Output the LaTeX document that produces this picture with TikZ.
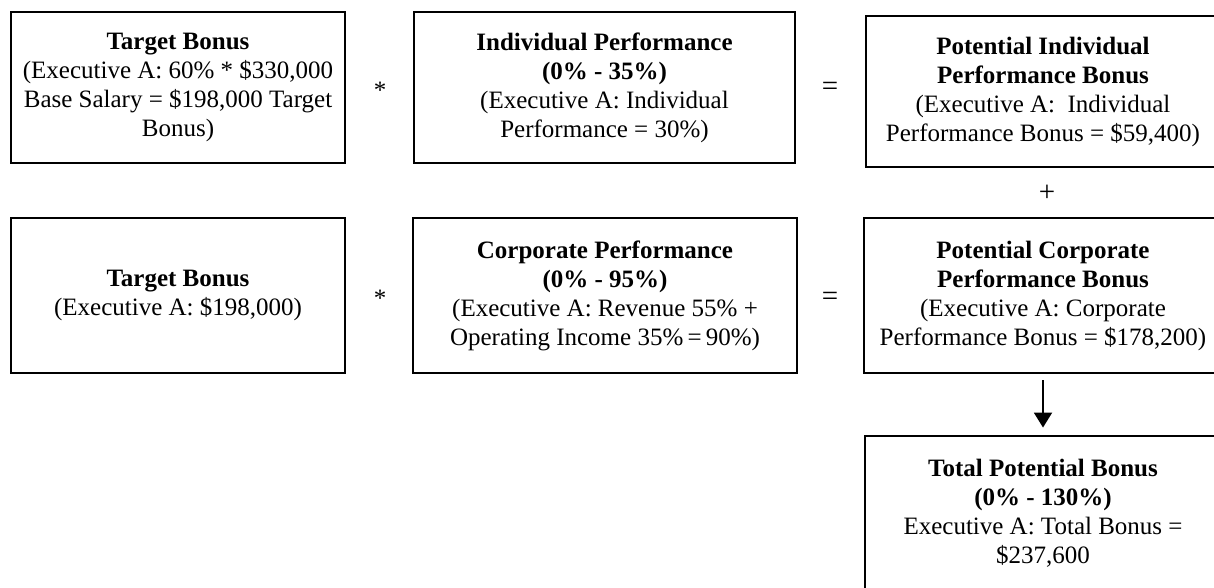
\documentclass[tikz,border=0pt]{standalone}
\usepackage{fontspec}
\setmainfont{Liberation Serif}
\usetikzlibrary{arrows.meta}
\begin{document}
\begin{tikzpicture}[x=1pt,y=-1pt,
  txt/.style={font=\fontsize{25}{29}\selectfont},
  box/.style={txt, draw=black, line width=2.9pt, rectangle, align=center, inner sep=0pt},
  op/.style={txt, inner sep=0pt, anchor=base},
  bigop/.style={op, font=\fontsize{29}{33}\selectfont},
  flow/.style={line width=2pt, -{Triangle[width=18pt,length=15pt]}}
  ]
\useasboundingbox (0,0) rectangle (1214,588);
\clip (0,0) rectangle (1214,588);

% individual performance row
\node[box, minimum width=334pt, minimum height=151pt] (tb1) at (178,87.5)
  {\textbf{Target Bonus}\\(Executive A: 60\% * \$330,000\\Base Salary = \$198,000 Target\\Bonus)};
\node[box, minimum width=381pt, minimum height=151pt] (ip) at (604.5,87.5)
  {\textbf{Individual Performance}\\\textbf{(0\% - 35\%)}\\(Executive A: Individual\\Performance = 30\%)};
\node[box, minimum width=354pt, minimum height=151pt] (pib) at (1043,91.5)
  {\textbf{Potential Individual}\\\textbf{Performance Bonus}\\(Executive A:\ \ Individual\\Performance Bonus = \$59,400)};

% corporate performance row
\node[box, minimum width=334pt, minimum height=155pt] (tb2) at (178,295.5)
  {\textbf{Target Bonus}\\(Executive A: \$198,000)};
\node[box, minimum width=384pt, minimum height=155pt] (cp) at (605,295.5)
  {\textbf{Corporate Performance}\\\textbf{(0\% - 95\%)}\\(Executive A: Revenue 55\% +\\Operating Income 35\%\,=\,90\%)};
\node[box, minimum width=358pt, minimum height=155pt] (pcb) at (1043,295.5)
  {\textbf{Potential Corporate}\\\textbf{Performance Bonus}\\(Executive A: Corporate\\Performance Bonus = \$178,200)};

% total
\node[box, minimum width=356pt, minimum height=154pt] (tot) at (1043,513)
  {\textbf{Total Potential Bonus}\\\textbf{(0\% - 130\%)}\\Executive A: Total Bonus =\\\$237,600};

% operators
\node[op] (m1) at (380,98.5) {*};
\node[bigop] (e1) at (830,96) {=};
\node[bigop] (pl) at (1047,201) {+};
\node[op] (m2) at (380,306.5) {*};
\node[bigop] (e2) at (830,305) {=};

\draw[flow, shorten <=6pt, shorten >=7pt] (pcb.south) -- (tot.north);
\end{tikzpicture}
\end{document}
